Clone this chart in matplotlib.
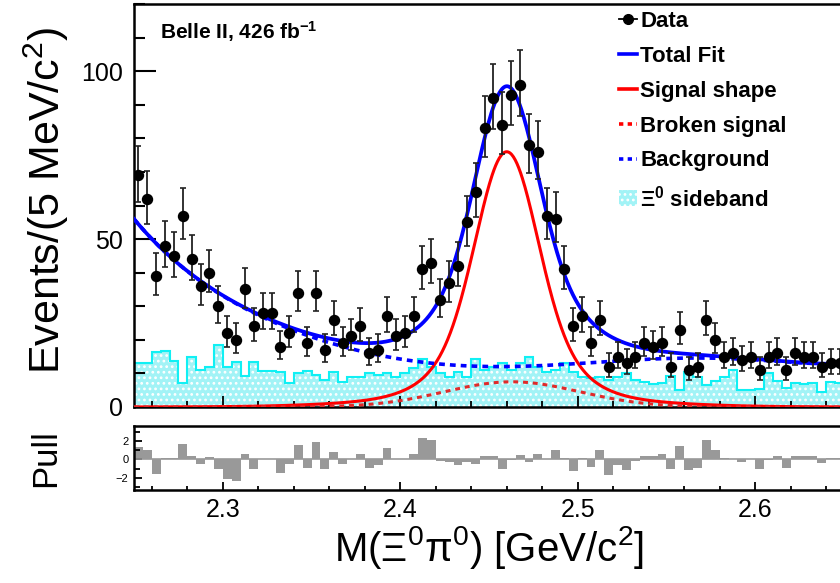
import numpy as np
import matplotlib
matplotlib.use("Agg")
import matplotlib.pyplot as plt
from matplotlib.lines import Line2D
from matplotlib.patches import Patch
from matplotlib.ticker import MultipleLocator, FixedLocator, FormatStrFormatter

plt.rcParams['font.family'] = ['Liberation Sans', 'DejaVu Sans']
plt.rcParams['mathtext.fontset'] = 'custom'
plt.rcParams['mathtext.rm'] = 'Liberation Sans'
plt.rcParams['mathtext.it'] = 'Liberation Sans:italic'
plt.rcParams['mathtext.bf'] = 'Liberation Sans:bold'
plt.rcParams['hatch.linewidth'] = 1.2

# ---- binning: 5 MeV bins from 2.25 to 2.65 GeV ----
bin_lo = 2.25
bin_width = 0.005
n_bins = 80

# event counts per bin
counts = [69, 62, 39, 48, 45, 57, 44, 36, 40, 30,
          22, 20, 35, 24, 28, 28, 18, 22, 34, 19,
          34, 17, 26, 19, 21, 24, 16, 17, 27, 21,
          22, 27, 41, 43, 32, 37, 42, 55, 64, 83,
          92, 84, 93, 96, 78, 76, 57, 56, 41, 24,
          27, 19, 26, 12, 15, 13, 15, 19, 18, 19,
          12, 23, 11, 12, 26, 20, 15, 16, 14, 15,
          11, 15, 16, 11, 16, 15, 15, 12, 13, 13]

# Xi0 sideband histogram
sideband = [13.0, 13.0, 16.5, 16.8, 13.8, 7.2, 15.0, 11.0, 12.0, 18.5,
            11.8, 13.5, 9.3, 13.5, 10.7, 10.7, 10.3, 7.0, 10.0, 10.8,
            9.5, 8.0, 10.5, 7.5, 9.0, 9.0, 10.0, 9.5, 10.0, 9.0,
            10.0, 11.5, 14.2, 12.0, 10.0, 9.0, 10.5, 9.0, 14.2, 11.0,
            12.0, 13.0, 11.0, 13.0, 15.0, 12.0, 10.5, 11.0, 13.0, 10.5,
            9.0, 8.5, 9.0, 8.0, 9.0, 10.0, 8.0, 7.5, 6.8, 7.0,
            9.3, 5.0, 10.5, 8.8, 6.5, 7.8, 9.0, 11.1, 5.2, 5.0,
            5.5, 10.0, 7.6, 5.8, 7.0, 6.8, 7.0, 4.5, 7.5, 7.2]

# fit pulls per bin
pulls = [1.3, 1.0, -1.6, 0.1, 0.1, 1.7, 0.4, -0.5, 0.3, -1.0,
         -2.1, -2.3, 0.6, -1.0, 0.0, 0.0, -1.5, -0.5, 1.5, -0.9,
         1.9, -1.0, 0.8, -0.5, 0.0, 0.6, -0.9, -0.6, 1.2, 0.0,
         0.0, 0.6, 2.3, 2.1, -0.2, -0.3, -0.6, -0.3, -0.5, 0.4,
         0.4, -1.0, -0.1, 0.5, -0.3, 0.6, 0.0, 1.0, 0.2, -1.3,
         0.1, -0.8, 1.0, -1.7, -0.6, -1.1, -0.2, 0.4, 0.4, 0.6,
         -1.0, 1.4, -1.1, -0.9, 2.1, 1.0, 0.1, 0.0, -0.3, 0.0,
         -1.0, -0.1, 0.4, -0.9, 0.4, 0.4, 0.4, -0.4, 0.1, 0.1]

# background shape sampled along the mass axis
bkg_mass = [2.25, 2.30, 2.345, 2.38, 2.40, 2.42, 2.45, 2.47, 2.525, 2.58, 2.64, 2.65]
bkg_level = [56.0, 33.0, 22.0, 16.5, 14.0, 12.8, 12.1, 12.3, 13.8, 14.4, 13.0, 12.7]

# signal shape: triple-Gaussian sharing one mean
sig_mean = 2.4600
sig_sigmas = [0.0165, 0.028, 0.060]
sig_amps = [52.0, 20.0, 4.0]

# broken-signal component
brk_mean = 2.463
brk_sigma = 0.038
brk_amp = 7.5

edges = bin_lo + bin_width * np.arange(n_bins + 1)
centers = 0.5 * (edges[:-1] + edges[1:])
counts = np.array(counts, dtype=float)
err_lo = np.sqrt(counts + 0.25) - 0.5
err_hi = np.sqrt(counts + 0.25) + 0.5

m = np.linspace(2.25, 2.65, 800)
t_k = (np.array(bkg_mass) - 2.45) / 0.2
coef = np.polyfit(t_k, bkg_level, 6)
bkg = np.polyval(coef, (m - 2.45) / 0.2)
sig = sum(a * np.exp(-0.5 * ((m - sig_mean) / s) ** 2) for a, s in zip(sig_amps, sig_sigmas))
brk = brk_amp * np.exp(-0.5 * ((m - brk_mean) / brk_sigma) ** 2)
total = bkg + sig + brk

W, H = 840, 583
fig = plt.figure(figsize=(W / 100, H / 100), dpi=100)
ax = fig.add_axes([134 / W, 1 - 407 / H, 710 / W, 403 / H])
axp = fig.add_axes([134 / W, 1 - 490 / H, 710 / W, 64 / H])

blue = '#0000ff'
red = '#ff0000'
side_face = '#a2f3f6'

# sideband (hatched fill + outline)
ax.stairs(sideband, edges, baseline=0, fill=True, facecolor=side_face,
          edgecolor='white', hatch='...', linewidth=0, zorder=1)
ax.stairs(sideband, edges, baseline=None, color='#10f0f4', linewidth=1.5, zorder=2)

ax.plot(m, sig, color=red, lw=2.2, zorder=3)
ax.plot(m, brk, color='#e02a2a', lw=2.2, ls=(0, (1.6, 1.6)), zorder=3)
ax.plot(m, bkg, color=blue, lw=2.6, ls=(0, (1.6, 1.4)), zorder=3)
ax.plot(m, total, color=blue, lw=2.7, zorder=4)

ax.errorbar(centers, counts, yerr=[err_lo, err_hi], fmt='o', color='black',
            ecolor='#222222', elinewidth=1.3, capsize=2.2, capthick=1.2,
            markersize=7.2, zorder=5)

ax.set_xlim(2.25, 2.65)
ax.set_ylim(0, 120)
ax.yaxis.set_major_locator(FixedLocator([0, 50, 100]))
ax.yaxis.set_minor_locator(MultipleLocator(10))
ax.xaxis.set_major_locator(MultipleLocator(0.1))
ax.xaxis.set_minor_locator(MultipleLocator(0.02))
ax.tick_params(axis='both', which='both', direction='in', top=False, right=False)
ax.tick_params(axis='y', which='major', length=16, width=1.5, labelsize=18, pad=8)
ax.tick_params(axis='y', which='minor', length=8, width=1.5)
ax.tick_params(axis='x', which='major', length=8, width=1.3, labelbottom=False)
ax.tick_params(axis='x', which='minor', length=4, width=1.3)
for s in ax.spines.values():
    s.set_linewidth(1.8)
ax.set_ylabel('Events/(5 MeV/c$^{2}$)', fontsize=31)
ax.yaxis.set_label_coords(-0.089, 0.514)

ax.text(0.036, 0.963, 'Belle II, 426 fb$^{\\mathbf{-1}}$', transform=ax.transAxes,
        fontsize=15, fontweight='bold', va='top', ha='left')

handles = [
    Line2D([], [], color='black', marker='o', markersize=7, lw=1.3),
    Line2D([], [], color=blue, lw=2.6),
    Line2D([], [], color=red, lw=2.6),
    Line2D([], [], color=red, lw=2.6, ls=(0, (1.2, 1.2))),
    Line2D([], [], color=blue, lw=2.6, ls=(0, (1.2, 1.2))),
    Patch(facecolor=side_face, edgecolor='white', hatch='...', linewidth=0),
]
labels = ['Data', 'Total Fit', 'Signal shape', 'Broken signal', 'Background',
          '$\\mathbf{\\Xi^{0}}$ sideband']
leg = ax.legend(handles, labels, loc='upper left', bbox_to_anchor=(0.683, 0.982),
                frameon=False, prop={'weight': 'bold', 'size': 16},
                handlelength=0.8, handletextpad=0.15, labelspacing=0.62,
                borderaxespad=0, borderpad=0)

# pull panel
axp.stairs(pulls, edges, baseline=0, fill=True, color='#999999', linewidth=0)
axp.axhline(0, color='#999999', lw=1.2)
axp.set_xlim(2.25, 2.65)
axp.set_ylim(-3.3, 3.6)
axp.yaxis.set_major_locator(FixedLocator([-2, 0, 2]))
axp.yaxis.set_minor_locator(MultipleLocator(1))
axp.xaxis.set_major_locator(MultipleLocator(0.1))
axp.xaxis.set_minor_locator(MultipleLocator(0.02))
axp.tick_params(axis='both', which='both', direction='in', top=False, right=False)
axp.tick_params(axis='y', which='major', length=6, width=1.3, labelsize=8, pad=4)
axp.tick_params(axis='y', which='minor', length=4, width=1.3)
axp.tick_params(axis='x', which='major', length=6, width=1.3, labelsize=18, pad=6)
axp.tick_params(axis='x', which='minor', length=3, width=1.3)
axp.set_yticklabels(['\u22122', '0', '2'])
axp.xaxis.set_major_formatter(FormatStrFormatter('%.1f'))
for s in axp.spines.values():
    s.set_linewidth(1.8)
axp.set_ylabel('Pull', fontsize=25)
axp.yaxis.set_label_coords(-0.101, 0.5)
axp.set_xlabel('M(\u039e$^{0}$\u03c0$^{0}$) [GeV/c$^{2}$]', fontsize=29, labelpad=1)

fig.savefig('out.png', dpi=100)
